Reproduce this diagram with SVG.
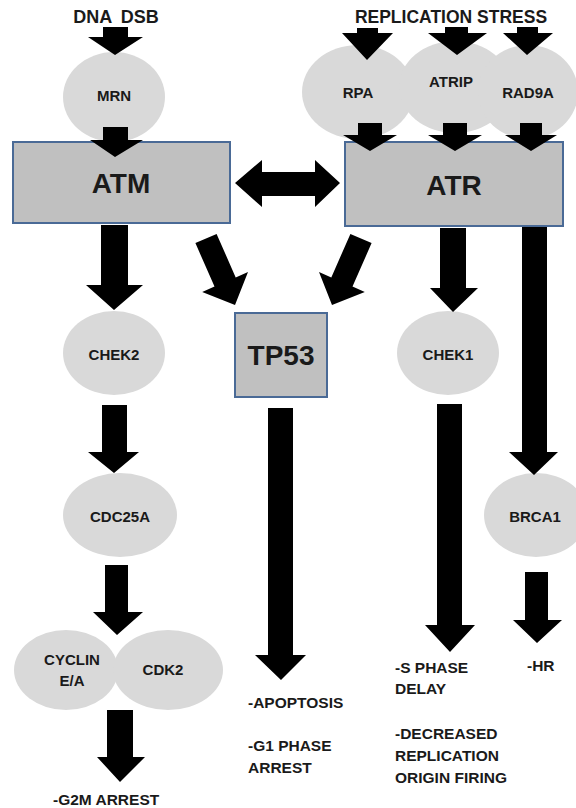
<svg xmlns="http://www.w3.org/2000/svg" width="576" height="808" viewBox="0 0 576 808">
<style>
text{font-family:"Liberation Sans",Arial,sans-serif;font-weight:bold;fill:#1a1a1a}
.el{fill:#d9d9d9}
.box{fill:#c0c0c0;stroke:#4a6a96;stroke-width:2}
.arr{fill:#000}
.s{font-size:15px;text-anchor:middle}
.big{font-size:28px;text-anchor:middle}
.lab{font-size:15.5px}
</style>
<rect width="576" height="808" fill="#fff"/>
<text x="116" y="23" style="font-size:18px;text-anchor:middle;word-spacing:4px">DNA DSB</text>
<text x="451" y="23" style="font-size:17.5px;text-anchor:middle">REPLICATION STRESS</text>
<g id="MRN"><ellipse class="el" cx="114" cy="97" rx="51" ry="45"/><text class="s" x="114" y="101">MRN</text></g>
<g id="RPA"><ellipse class="el" cx="358" cy="92" rx="56" ry="47"/><text class="s" x="358" y="98">RPA</text></g>
<g id="ATRIP"><ellipse class="el" cx="455" cy="87" rx="56" ry="46"/><text class="s" x="451" y="87">ATRIP</text></g>
<g id="RAD9A"><ellipse class="el" cx="528" cy="92" rx="50" ry="47"/><text class="s" x="528" y="98">RAD9A</text></g>
<g id="ATM"><rect class="box" x="13" y="142" width="217" height="81"/><text class="big" x="121" y="193">ATM</text></g>
<g id="ATR"><rect class="box" x="345" y="142" width="218" height="84"/><text class="big" x="454" y="195">ATR</text></g>
<g id="TP53"><rect class="box" x="235" y="313" width="92" height="84"/><text class="big" x="281" y="365">TP53</text></g>
<g id="CHEK2"><ellipse class="el" cx="114" cy="353" rx="51" ry="42"/><text class="s" x="114" y="360">CHEK2</text></g>
<g id="CDC25A"><ellipse class="el" cx="120" cy="515" rx="57" ry="42"/><text class="s" x="120" y="522">CDC25A</text></g>
<g id="CHEK1"><ellipse class="el" cx="448" cy="353" rx="51" ry="42"/><text class="s" x="448" y="360">CHEK1</text></g>
<g id="BRCA1"><ellipse class="el" cx="536" cy="515" rx="52" ry="42"/><text class="s" x="535" y="522">BRCA1</text></g>
<g id="CYCLIN"><ellipse class="el" cx="66" cy="670" rx="52" ry="40"/><ellipse class="el" cx="168" cy="670" rx="55" ry="40"/><text class="s" x="72" y="665">CYCLIN</text><text class="s" x="72" y="686">E/A</text><text class="s" x="163" y="675">CDK2</text></g>
<g id="connectors" class="arr">
<polygon points="103,27 128,27 128,37 143,37 115,55 88,37 103,37"/>
<polygon points="103,127 128,127 128,140 143,140 115,157 90,140 103,140"/>
<polygon points="357,28 378,28 378,33 393,33 367,60 342,33 357,33"/>
<polygon points="445,27 468,27 468,33 487,33 457,55 428,33 445,33"/>
<polygon points="517,27 538,27 538,33 553,33 527,55 503,33 517,33"/>
<polygon points="358,123 382,123 382,135 397,135 370,151 343,135 358,135"/>
<polygon points="443,123 467,123 467,135 482,135 455,151 428,135 443,135"/>
<polygon points="520,123 542,123 542,135 557,135 531,151 505,135 520,135"/>
<polygon points="235,183 262,160 262,172 315,172 315,160 340,183 315,207 315,196 262,196 262,207"/>
<polygon points="195.4,243.1 216.6,233.9 235.7,277.4 248,272.1 235,305 202.2,291.9 214.5,286.6"/>
<polygon points="371.6,243.1 350.4,233.9 331.3,277.4 319,272.1 332,305 364.8,291.9 352.5,286.6"/>
<polygon points="101,225 128,225 128,285 143,285 114,310 86,285 101,285"/>
<polygon points="102,405 127,405 127,452 139,452 114,473 88,452 102,452"/>
<polygon points="105,565 128,565 128,612 143,612 117,635 93,612 105,612"/>
<polygon points="107,710 133,710 133,757 145,757 120,782 97,757 107,757"/>
<polygon points="268,408 293,408 293,655 306,655 281,680 255,655 268,655"/>
<polygon points="440,228 466,228 466,288 478,288 453,312 430,288 440,288"/>
<polygon points="437,404 462,404 462,625 475,625 450,652 425,625 437,625"/>
<polygon points="522,227 547,227 547,452 558,452 534,475 509,452 522,452"/>
<polygon points="525,572 548,572 548,620 562,620 537,643 513,620 525,620"/>
</g>
<text class="lab" x="53" y="805">-G2M ARREST</text>
<text class="lab" x="248" y="708">-APOPTOSIS</text>
<text class="lab" x="248" y="751">-G1 PHASE</text>
<text class="lab" x="248" y="773">ARREST</text>
<text class="lab" x="395" y="673">-S PHASE</text>
<text class="lab" x="395" y="694">DELAY</text>
<text class="lab" x="395" y="739">-DECREASED</text>
<text class="lab" x="395" y="761">REPLICATION</text>
<text class="lab" x="395" y="783">ORIGIN FIRING</text>
<text class="lab" x="527" y="671">-HR</text>
</svg>
